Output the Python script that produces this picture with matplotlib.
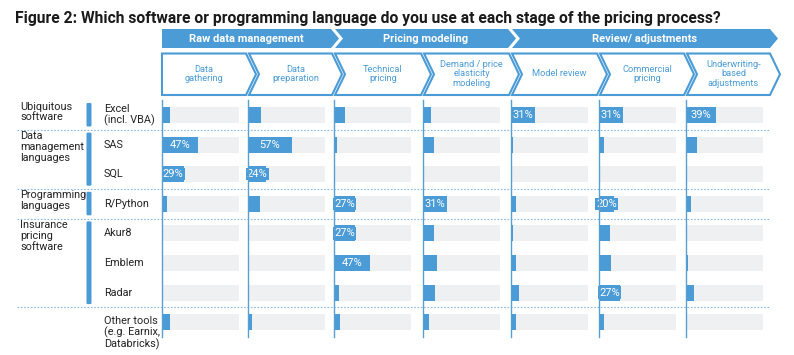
import matplotlib.pyplot as plt
from matplotlib.patches import Polygon, FancyBboxPatch

plt.rcParams['font.family'] = ['Roboto', 'DejaVu Sans']

title = "Figure 2: Which software or programming language do you use at each stage of the pricing process?"

phases = ["Raw data management", "Pricing modeling", "Review/ adjustments"]
phase_cols = [(0, 1), (2, 3), (4, 6)]

stages = ["Data\ngathering", "Data\npreparation", "Technical\npricing",
          "Demand / price\nelasticity\nmodeling", "Model review",
          "Commercial\npricing", "Underwriting-\nbased\nadjustments"]

tools = ["Excel\n(incl. VBA)", "SAS", "SQL", "R/Python", "Akur8", "Emblem",
         "Radar", "Other tools\n(e.g. Earnix,\nDatabricks)"]

groups = ["Ubiquitous\nsoftware", "Data\nmanagement\nlanguages",
          "Programming\nlanguages", "Insurance\npricing\nsoftware"]
group_rows = [(0, 0), (1, 2), (3, 3), (4, 6)]

# % of respondents, rows follow `tools`
data_gathering = [11, 47, 29, 6, 0, 0, 0, 10]
data_preparation = [17, 57, 24, 16, 0, 0, 1, 5]
technical_pricing = [14, 4, 0, 27, 27, 47, 6, 8]
demand_elasticity = [10, 14, 0, 31, 14, 18, 16, 8]
model_review = [31, 3, 0, 6, 3, 6, 10, 6]
commercial_pricing = [31, 7, 0, 20, 14, 16, 27, 6]
underwriting = [39, 14, 0, 6, 0, 3, 10, 0]
values = [data_gathering, data_preparation, technical_pricing, demand_elasticity,
          model_review, commercial_pricing, underwriting]

BLUE = "#4a9bd6"
GREY = "#eff0f2"
W, H = 794, 355

fig = plt.figure(figsize=(W / 100, H / 100), dpi=100)
bg = fig.add_axes([0, 0, 1, 1])
bg.set_xlim(0, W)
bg.set_ylim(H, 0)
bg.axis('off')

# layout in pixels
col_x = [162, 248, 334, 423, 511, 599, 686]
col_w = 77
row0, row_step = 115, 29.6
rows_top = row0 - row_step / 2
rows_bot = row0 + row_step * (len(tools) - 0.5)
row_y = [row0 + row_step * i for i in range(len(tools))]
right_end = 770

t = bg.text(15, 18, title, fontsize=10, fontweight='bold', color='#1a1a1a',
            va='center', ha='left')
fig.canvas.draw()
w = t.get_window_extent().width
t.set_fontsize(10 * 705 / w)


def chevron(x0, x1, y0, y1, depth, first, **kw):
    mid = (y0 + y1) / 2
    pts = [(x0, y0), (x1, y0), (x1 + depth, mid), (x1, y1), (x0, y1)]
    if not first:
        pts.append((x0 + depth, mid))
    bg.add_patch(Polygon(pts, closed=True, **kw))


# phase row
for i, (name, (a, b)) in enumerate(zip(phases, phase_cols)):
    x0 = col_x[a] + (0 if i == 0 else 1)
    x1 = col_x[b + 1] - 3 if b + 1 < len(col_x) else right_end
    chevron(x0, x1, 29, 48, 8, i == 0, facecolor=BLUE, edgecolor='none')
    cx = (x0 + x1) / 2 + (0 if i == 0 else 4)
    bg.text(cx, 38.5, name, color='white', fontsize=8, fontweight='bold',
            ha='center', va='center')

# stage row
for i, name in enumerate(stages):
    x0 = col_x[i] + (0 if i == 0 else 1)
    x1 = col_x[i + 1] - 2 if i + 1 < len(col_x) else right_end
    chevron(x0, x1, 53.5, 95, 10, i == 0, facecolor='white', edgecolor=BLUE,
            linewidth=1.5)
    cx = (x0 + x1) / 2 + (0 if i == 0 else 5)
    bg.text(cx, 74, name, color=BLUE, fontsize=6.7, ha='center', va='center',
            linespacing=1.1)

# group labels and markers
for name, (a, b) in zip(groups, group_rows):
    top = row_y[a] - 12
    bot = row_y[b] + 11.5
    bg.add_patch(FancyBboxPatch((86.5, top), 5, bot - top,
                                boxstyle='round,pad=0,rounding_size=1.2',
                                facecolor=BLUE, edgecolor='none'))
    bg.text(20, top - 1.5, name, fontsize=7.8, color='#222222', ha='left',
            va='top', linespacing=1.1)

# tool labels
for i, name in enumerate(tools):
    if i == len(tools) - 1:
        bg.text(104, row_y[i] - 6.5, name, fontsize=7.8, color='#222222',
                ha='left', va='top', linespacing=1.1)
    else:
        bg.text(104, row_y[i], name, fontsize=7.8, color='#222222',
                ha='left', va='center', linespacing=1.1)

# dotted separators between groups
for b in [0, 2, 3, 6]:
    y = (row_y[b] + row_y[b + 1]) / 2
    bg.plot([17, right_end], [y, y], color='#8ab9e0', linewidth=0.8,
            linestyle=(0, (1.5, 1.5)))

# bar columns
for i, vals in enumerate(values):
    ax = fig.add_axes([col_x[i] / W, 1 - rows_bot / H, col_w / W,
                       (rows_bot - rows_top) / H])
    ax.set_xlim(0, 100)
    ax.set_ylim(len(tools) - 0.5, -0.5)
    ax.patch.set_alpha(0)
    idx = list(range(len(tools)))
    ax.barh(idx, [100] * len(tools), height=0.54, color=GREY, zorder=1)
    ax.barh(idx, vals, height=0.54, color=BLUE, zorder=2)
    for j, v in enumerate(vals):
        if v >= 20:
            ax.text(v / 2, j, f"{v}%", color='white', fontsize=8,
                    ha='center', va='center', zorder=3,
                    bbox=dict(boxstyle='square,pad=0.1',
                              facecolor=BLUE, edgecolor='none'))
    for s in ['top', 'right', 'bottom']:
        ax.spines[s].set_visible(False)
    ax.spines['left'].set_color('#5a9fd4')
    ax.spines['left'].set_linewidth(1)
    ax.spines['left'].set_zorder(4)
    ax.set_xticks([])
    ax.set_yticks([])

fig.savefig('out.png', dpi=100)
